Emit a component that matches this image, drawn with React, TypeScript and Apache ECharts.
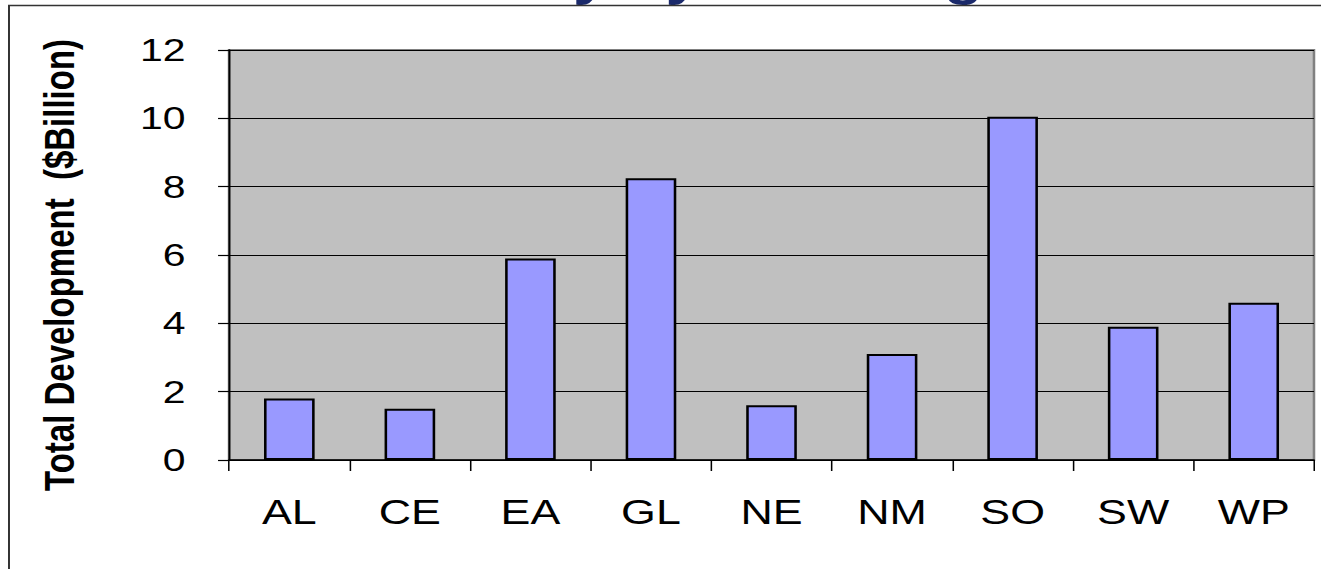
import React, { useEffect, useRef } from "react";
import * as echarts from "echarts";

const categories = ["AL", "CE", "EA", "GL", "NE", "NM", "SO", "SW", "WP"];
const values = [1.8, 1.5, 5.9, 8.25, 1.6, 3.1, 10.05, 3.9, 4.6];
const yMin = 0;
const yMax = 12;
const yInterval = 2;
const titleText = "Total Activity by FAA Region";
const yTitle = "Total Development  ($Billion)";

const STRETCH = 1.28;
const FONT = '"Liberation Sans", Arial, Helvetica, sans-serif';

export default function App() {
  const ref = useRef<HTMLDivElement>(null);
  useEffect(() => {
    if (!ref.current) return;
    const chart = echarts.init(ref.current, undefined, { renderer: "svg" });
    chart.setOption({
      animation: false,
      backgroundColor: "#ffffff",
      grid: {
        left: 172.7,
        top: 110,
        width: 847.6,
        height: 410,
        show: true,
        backgroundColor: "#C0C0C0",
        borderColor: "#808080",
        borderWidth: 2,
        containLabel: false,
      },
      xAxis: {
        type: "category",
        data: categories,
        boundaryGap: true,
        axisLine: { show: true, lineStyle: { color: "#000", width: 1.5 } },
        axisTick: { show: true, length: 11, lineStyle: { color: "#000", width: 1.2 } },
        axisLabel: {
          show: true,
          margin: 35,
          color: "#000",
          fontSize: 35,
          fontFamily: FONT,
          interval: 0,
        },
        splitLine: { show: false },
      },
      yAxis: {
        type: "value",
        min: yMin,
        max: yMax,
        interval: yInterval,
        axisLine: { show: true, lineStyle: { color: "#000", width: 1.5 } },
        axisTick: { show: true, length: 8.6, lineStyle: { color: "#000", width: 1.2 } },
        axisLabel: {
          show: true,
          margin: 34,
          color: "#000",
          fontSize: 32,
          fontFamily: FONT,
        },
        splitLine: { show: true, lineStyle: { color: "#000", width: 1.2 } },
      },
      series: [
        {
          type: "bar",
          data: values,
          barWidth: "42%",
          itemStyle: { color: "#9999FF", borderColor: "#000", borderWidth: 2 },
          z: 3,
        },
      ],
      graphic: [
        {
          type: "text",
          x: 161,
          y: 38,
          style: {
            text: titleText,
            fontSize: 50,
            fontWeight: "bold",
            fontFamily: FONT,
            fill: "#1B2A6B",
            align: "left",
            verticalAlign: "middle",
          },
          z: 1,
        },
        {
          type: "rect",
          shape: { x: 0.75, y: 65.5, width: 1200, height: 800 },
          style: { fill: "none", stroke: "#333", lineWidth: 1.6 },
          z: 2,
        },
        {
          type: "text",
          x: 40,
          y: 325,
          rotation: Math.PI / 2,
          style: {
            text: yTitle,
            fontSize: 33,
            fontWeight: "bold",
            fontFamily: FONT,
            fill: "#000",
            align: "center",
            verticalAlign: "middle",
          },
        },
      ],
    });
    return () => chart.dispose();
  }, []);

  return (
    <div
      style={{
        position: "absolute",
        left: 0,
        top: 0,
        width: 1321,
        height: 569,
        overflow: "hidden",
        background: "#fff",
      }}
    >
      <div
        ref={ref}
        style={{
          position: "absolute",
          left: 8,
          top: -60,
          width: 1040,
          height: 640,
          transform: `scaleX(${STRETCH})`,
          transformOrigin: "0 0",
        }}
      />
    </div>
  );
}
